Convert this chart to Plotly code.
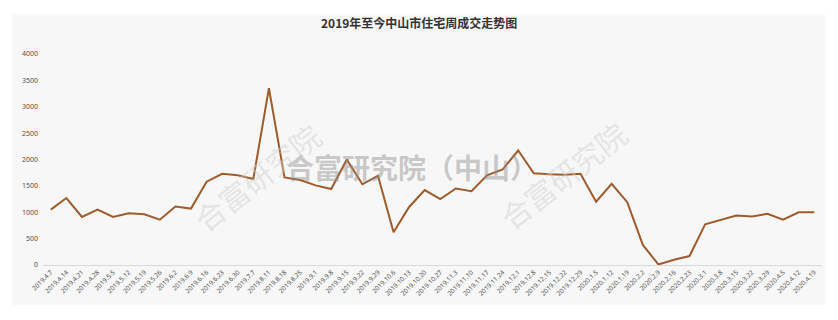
import plotly.graph_objects as go

dates = ["2019.4.7","2019.4.14","2019.4.21","2019.4.28","2019.5.5","2019.5.12","2019.5.19","2019.5.26",
         "2019.6.2","2019.6.9","2019.6.16","2019.6.23","2019.6.30","2019.7.7","2019.8.11","2019.8.18",
         "2019.8.25","2019.9.1","2019.9.8","2019.9.15","2019.9.22","2019.9.29","2019.10.6","2019.10.13",
         "2019.10.20","2019.10.27","2019.11.3","2019.11.10","2019.11.17","2019.11.24","2019.12.1","2019.12.8",
         "2019.12.15","2019.12.22","2019.12.29","2020.1.5","2020.1.12","2020.1.19","2020.2.2","2020.2.9",
         "2020.2.16","2020.2.23","2020.3.1","2020.3.8","2020.3.15","2020.3.22","2020.3.29","2020.4.5",
         "2020.4.12","2020.4.19"]
volumes = [1050,1270,910,1050,910,980,960,860,1110,1070,1580,1730,1700,1630,3350,1660,
           1610,1510,1440,2000,1530,1690,620,1100,1420,1250,1450,1400,1700,1810,2170,1740,
           1720,1710,1730,1200,1540,1190,380,10,100,170,770,860,940,920,970,860,1000,1000]
y_ticks = [0,500,1000,1500,2000,2500,3000,3500,4000]
title_text = "2019年至今中山市住宅周成交走势图"
watermark_main = "合富研究院（中山）"
watermark_diag = "合富研究院"

W, H = 838, 320
ml, mr, mt, mb = 43, 16, 53.6, 55
pw, ph = W - ml - mr, H - mt - mb

def px(x):
    return (x - ml) / pw

def py(y):
    return (H - mb - y) / ph

fig = go.Figure()
fig.add_trace(go.Scatter(
    x=dates, y=volumes, mode="lines",
    line=dict(color="#9e5c2c", width=2),
    hoverinfo="x+y", showlegend=False,
))

bg = "#f7f7f7"
fig.add_shape(type="rect", xref="paper", yref="paper",
              x0=px(12), x1=px(825), y0=py(305), y1=py(14),
              fillcolor=bg, line=dict(width=0), layer="below")

ann = [
    dict(text="<b>" + watermark_main + "</b>", x=px(412), y=py(167), xref="paper", yref="paper",
         showarrow=False, font=dict(family="Noto Sans CJK SC", size=28, color="rgba(140,140,140,0.45)"),
         xanchor="center", yanchor="middle"),
    dict(text=watermark_diag, x=px(257), y=py(177), xref="paper", yref="paper",
         showarrow=False, textangle=-38,
         font=dict(family="Noto Sans CJK SC", size=30, color="rgba(205,205,205,0.45)"),
         xanchor="center", yanchor="middle"),
    dict(text=watermark_diag, x=px(563), y=py(175), xref="paper", yref="paper",
         showarrow=False, textangle=-38,
         font=dict(family="Noto Sans CJK SC", size=30, color="rgba(205,205,205,0.45)"),
         xanchor="center", yanchor="middle"),
    dict(text="<b>" + title_text + "</b>", x=px(419), y=py(22), xref="paper", yref="paper",
         showarrow=False, font=dict(family="Noto Sans CJK SC", size=12, color="#333333"),
         xanchor="center", yanchor="middle"),
]

fig.update_layout(
    width=W, height=H,
    margin=dict(l=ml, r=mr, t=mt, b=mb, pad=0),
    paper_bgcolor="white", plot_bgcolor=bg,
    annotations=ann,
    xaxis=dict(type="category", range=[-0.5, len(dates) - 0.5], tickangle=-45,
               showgrid=False, zeroline=False,
               showline=True, linecolor="#d9d9d9", linewidth=1, ticks="",
               tickfont=dict(family="Noto Sans", size=6.5, color="#505050"),
               fixedrange=True),
    yaxis=dict(range=[0, 4000], tickvals=y_ticks, showgrid=False, zeroline=False,
               showline=False, ticks="", ticklabelstandoff=4,
               tickfont=dict(family="Noto Sans", size=7, color="#505050"),
               fixedrange=True),
)

fig.write_html("out.html")
